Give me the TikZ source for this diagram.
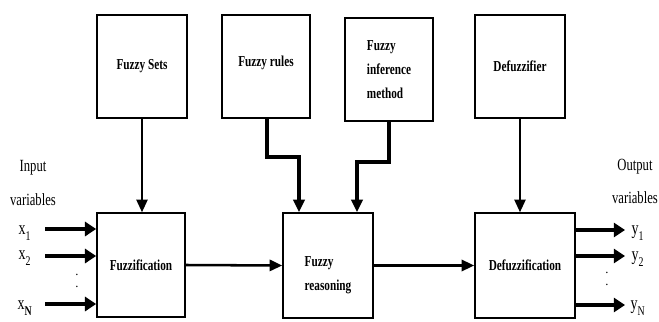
\documentclass[tikz,border=0pt]{standalone}
\usepackage{fontspec}
\usepackage{graphicx}
\setmainfont{Liberation Serif}
\usetikzlibrary{arrows.meta, positioning, calc}

\newcommand{\tall}[1]{\scalebox{1}[1.35]{#1}}
\newcommand{\lowsub}[1]{\raisebox{-2pt}{\textsubscript{#1}}}

\begin{document}
\begin{tikzpicture}[x=0.025cm, y=-0.025cm]
    \tikzstyle{block} = [rectangle, draw=black, line width=1.1pt, fill=white, font=\fontsize{8}{17}\selectfont\bfseries, align=left, inner sep=2pt]
    \tikzstyle{arrow} = [line width=1.3pt, -{Triangle[length=9pt,width=8pt]}]
    \tikzstyle{bigarrow} = [line width=2.4pt, -{Triangle[length=8pt,width=10pt]}]
    \tikzstyle{varlabel} = [font=\fontsize{10}{12}\selectfont, inner sep=0pt]
    \tikzstyle{caption} = [font=\fontsize{9}{23.5}\selectfont, align=center, inner sep=0pt]
    \tikzstyle{dots} = [font=\fontsize{9}{8.5}\selectfont, align=center, inner sep=0pt]

    \useasboundingbox (0,0) rectangle (659,322);

    % top row
    \node[block, minimum width=2.25cm, minimum height=2.575cm] (sets) at (142,66.5) {\tall{Fuzzy Sets}};
    \node[block, minimum width=2.2cm, minimum height=2.575cm] (rules) at (266,66.5) {\raisebox{8pt}{\tall{Fuzzy rules}}};
    \node[block, minimum width=2.2cm, minimum height=2.575cm] (infer) at (389,69.5) {\tall{Fuzzy}\\\tall{inference}\\\tall{method}};
    \node[block, minimum width=2.25cm, minimum height=2.575cm] (defuzzifier) at (520,66.5) {\tall{Defuzzifier}};

    % bottom row
    \node[block, minimum width=2.2cm, minimum height=2.6cm] (fuzzification) at (141,265) {\tall{Fuzzification}};
    \node[block, minimum width=2.25cm, minimum height=2.625cm] (reasoning) at (328,265.5) {\rule{0pt}{21pt}\tall{Fuzzy}\\\tall{reasoning}};
    \node[block, minimum width=2.5cm, minimum height=2.625cm] (defuzzification) at (525,265.5) {\tall{Defuzzification}};

    % inputs
    \node[caption] (inlabel) at (33,183) {\tall{Input}\\\tall{variables}};
    \node[varlabel] (x1) at (25,233) {\tall{x\lowsub{1}}};
    \node[varlabel] (x2) at (25,258) {\tall{x\lowsub{2}}};
    \node[varlabel] (xn) at (25,308) {\tall{x\lowsub{\textbf{N}}}};
    \node[dots] (indots) at (77,281) {.\\.};
    \coordinate (in1) at (45,229);
    \coordinate (in2) at (45,256);
    \coordinate (in3) at (45,304);

    % outputs
    \node[caption] (outlabel) at (635,181) {\tall{Output}\\\tall{variables}};
    \node[varlabel] (y1) at (638,233) {\tall{y\lowsub{1}}};
    \node[varlabel] (y2) at (638,259) {\tall{y\lowsub{2}}};
    \node[varlabel] (yn) at (638,308) {\tall{y\lowsub{N}}};
    \node[dots] (outdots) at (607,279) {.\\.};
    \coordinate (out1) at (625,230);
    \coordinate (out2) at (625,256);
    \coordinate (out3) at (625,305);

    % bends
    \coordinate (rbend) at (267,157);
    \coordinate (ibend) at (389,162);

    \draw[bigarrow] (in1) -- (in1 -| fuzzification.west);
    \draw[bigarrow] (in2) -- (in2 -| fuzzification.west);
    \draw[bigarrow] (in3) -- (in3 -| fuzzification.west);

    \draw[bigarrow] (out1 -| defuzzification.east) -- (out1);
    \draw[bigarrow] (out2 -| defuzzification.east) -- (out2);
    \draw[bigarrow] (out3 -| defuzzification.east) -- (out3);

    \draw[arrow] (sets.south) -- (sets.south |- fuzzification.north);
    \draw[arrow] (defuzzifier.south) -- (defuzzifier.south |- defuzzification.north);

    \draw[arrow, line width=2.2pt] (rules.south -| rbend) -- (rbend) -- (rbend -| 299,0) -- (299,0 |- reasoning.north);
    \draw[arrow, line width=2.2pt] (infer.south -| ibend) -- (ibend) -- (ibend -| 357,0) -- (357,0 |- reasoning.north);

    \draw[arrow, line width=1.8pt] (fuzzification.east) -- (reasoning.west);
    \draw[arrow, line width=1.8pt] (reasoning.east) -- (defuzzification.west);
\end{tikzpicture}
\end{document}
